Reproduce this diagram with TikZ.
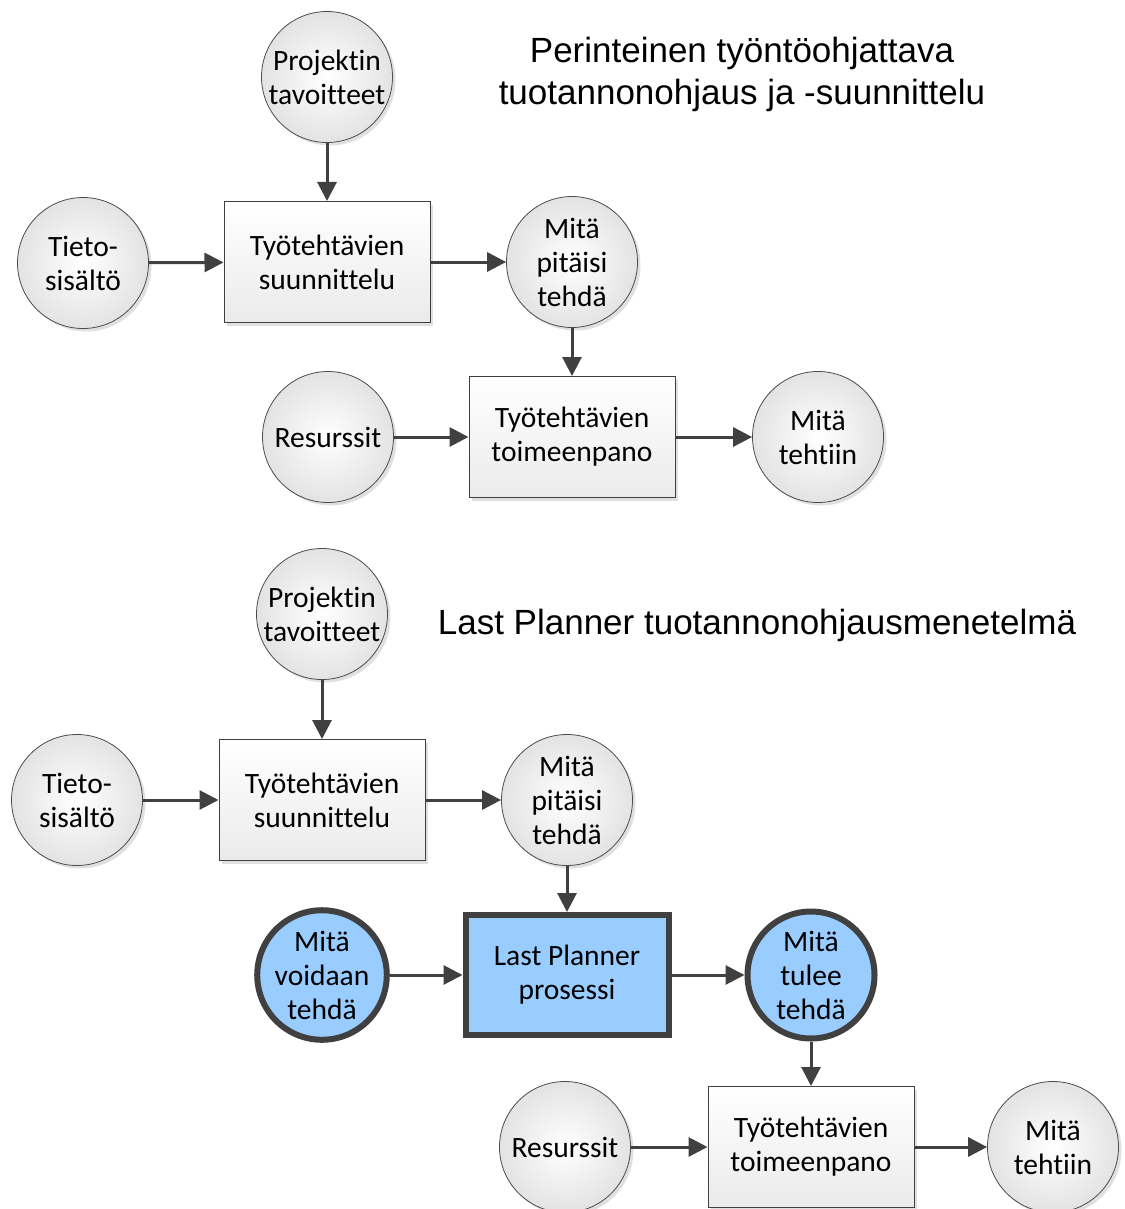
\documentclass[tikz,border=0pt]{standalone}
\usepackage{fontspec}
\setmainfont{Carlito}[Ligatures=NoCommon]
\newfontfamily\titlefont{Liberation Sans}
\usetikzlibrary{arrows.meta,shadows}
\definecolor{linegray}{HTML}{404040}
\definecolor{lpblue}{HTML}{99CCFF}

\tikzset{
  label text/.style={font=\fontsize{29.5}{34}\selectfont, align=center, text=black},
  softshadow/.style={drop shadow={shadow xshift=3pt, shadow yshift=-3pt, fill=gray!40, opacity=0.6}},
  bubble/.style={label text, circle, minimum size=131pt, inner sep=0pt,
    draw=gray!60!black, line width=0.8pt, inner color=white, outer color=gray!22, softshadow},
  taskbox/.style={label text, rectangle, minimum width=206pt, minimum height=121pt, inner sep=0pt,
    draw=linegray, line width=1pt, top color=white, bottom color=gray!16, softshadow},
  keybubble/.style={label text, circle, minimum size=127pt, inner sep=0pt,
    draw=linegray, line width=6pt, fill=lpblue},
  keybox/.style={label text, rectangle, minimum width=203pt, minimum height=120pt, inner sep=0pt,
    draw=linegray, line width=6pt, fill=lpblue},
  flow/.style={-{Triangle[length=19pt,width=19pt]}, line width=3pt, draw=linegray},
  heading/.style={font=\titlefont\fontsize{35}{42}\selectfont, align=center, text=black}
}

\begin{document}
\begin{tikzpicture}[x=1pt, y=-1pt]
  \useasboundingbox[fill=white] (0,0) rectangle (1124,1209);

  % --- Traditional push-driven planning ---
  \node[heading] (title1) at (742,74) {Perinteinen työntöohjattava\\tuotannonohjaus ja -suunnittelu};

  \node[bubble]  (goal1)  at (327,77)  {Projektin\\tavoitteet};
  \node[taskbox] (plan1)  at (327,262) {Työtehtävien\\suunnittelu};
  \node[bubble]  (info1)  at (83,263)  {Tieto-\\sisältö};
  \node[bubble]  (should1) at (572,262) {Mitä\\pitäisi\\tehdä};
  \node[taskbox] (exec1)  at (572,437) {Työtehtävien\\toimeenpano};
  \node[bubble]  (res1)   at (328,437) {Resurssit};
  \node[bubble]  (done1)  at (818,437) {Mitä\\tehtiin};

  \draw[flow] (goal1) -- (plan1);
  \draw[flow] (info1) -- (plan1);
  \draw[flow] (plan1) -- (should1);
  \draw[flow] (should1) -- (exec1);
  \draw[flow] (res1) -- (exec1);
  \draw[flow] (exec1) -- (done1);

  % --- Last Planner method ---
  \node[heading] (title2) at (757,625) {Last Planner tuotannonohjausmenetelmä};

  \node[bubble]  (goal2)  at (322,614) {Projektin\\tavoitteet};
  \node[taskbox] (plan2)  at (322,800) {Työtehtävien\\suunnittelu};
  \node[bubble]  (info2)  at (77,800)  {Tieto-\\sisältö};
  \node[bubble]  (should2) at (567,800) {Mitä\\pitäisi\\tehdä};
  \node[keybox]    (lp)   at (567,975) {Last Planner\\prosessi};
  \node[keybubble] (can)  at (322,975) {Mitä\\voidaan\\tehdä};
  \node[keybubble] (will) at (811,975) {Mitä\\tulee\\tehdä};
  \node[taskbox] (exec2)  at (811,1147) {Työtehtävien\\toimeenpano};
  \node[bubble]  (res2)   at (565,1147) {Resurssit};
  \node[bubble]  (done2)  at (1053,1147) {Mitä\\tehtiin};

  \draw[flow] (goal2) -- (plan2);
  \draw[flow] (info2) -- (plan2);
  \draw[flow] (plan2) -- (should2);
  \draw[flow] (should2) -- (lp);
  \draw[flow] (can) -- (lp);
  \draw[flow] (lp) -- (will);
  \draw[flow] (will) -- (exec2);
  \draw[flow] (res2) -- (exec2);
  \draw[flow] (exec2) -- (done2);
\end{tikzpicture}
\end{document}
